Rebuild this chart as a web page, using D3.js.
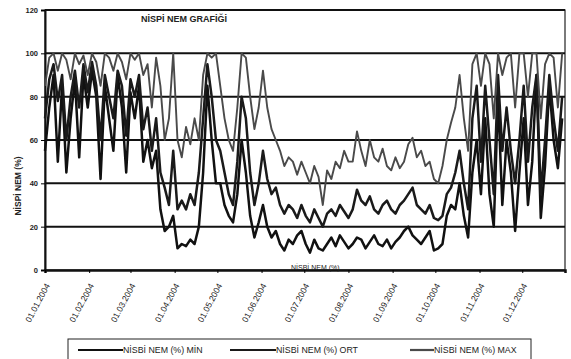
<!DOCTYPE html>
<html><head><meta charset="utf-8">
<script src="https://cdn.jsdelivr.net/npm/d3@7"></script>
<style>body{margin:0;background:#fff}svg{display:block;font-family:"Liberation Sans",Arial,sans-serif}</style>
</head><body><svg id="c" width="571" height="359"></svg>
<script>
// sampling: one reading every 3 days starting 01.01.2004
const startDate = "2004-01-01";
const stepDays = 3;
const tickLabels = ["01.01.2004","01.02.2004","01.03.2004","01.04.2004","01.05.2004","01.06.2004","01.07.2004","01.08.2004","01.09.2004","01.10.2004","01.11.2004","01.12.2004"];
const yTicks = [0,20,40,60,80,100,120];
const seriesNames = ["NİSBİ NEM (%) MİN","NİSBİ NEM (%) ORT","NİSBİ NEM (%) MAX"];
const maxValues = [85,98,100,92,100,97,88,100,95,99,90,
 100,96,85,100,98,92,100,96,88,100,
 97,100,90,95,75,98,85,60,70,100,
 60,52,66,58,70,60,90,100,98,100,
 85,70,60,55,75,100,98,80,65,75,
 92,75,65,60,55,48,52,50,44,50,
 45,40,48,43,30,46,42,50,47,55,50,
 50,64,55,48,60,52,50,56,48,46,
 52,47,50,58,61,52,55,48,50,42,
 40,48,60,68,75,90,70,55,95,100,
 85,100,95,70,100,90,98,100,75,100,
 100,80,100,100,70,95,100,98,75,100];
const ortValues = [70,88,95,78,90,60,80,92,75,95,82,
 96,85,60,90,80,70,92,85,62,88,
 80,90,65,75,55,70,45,38,30,55,
 28,32,28,35,30,45,70,95,80,60,
 55,45,35,30,50,80,70,45,30,40,
 55,42,35,38,30,26,30,28,24,30,
 25,22,28,24,20,26,28,25,30,27,24,
 28,37,32,30,34,28,26,30,32,28,
 26,30,32,35,38,30,28,26,30,24,
 23,25,35,38,45,55,40,28,70,85,
 50,85,60,35,90,55,75,55,40,60,
 85,50,75,90,35,60,90,70,55,80];
const minValues = [55,75,90,50,85,45,70,88,52,90,75,
 92,80,42,85,70,55,90,75,45,82,
 70,85,50,60,47,55,28,18,20,25,
 10,12,11,14,12,20,45,85,60,40,
 40,30,25,22,35,60,45,25,15,22,
 30,20,15,18,12,9,14,12,16,18,
 12,8,14,10,9,12,15,11,16,13,10,
 12,15,14,10,13,16,12,11,14,10,
 13,15,18,20,16,14,12,15,18,9,
 10,12,25,30,28,40,25,15,45,60,
 35,70,35,20,80,30,60,45,18,45,
 70,30,50,90,24,48,85,60,47,70];

const svg = d3.select("#c");
const L=45, R=565, T=10, B=270;
const parse = d3.timeParse("%Y-%m-%d");
const t0 = parse(startDate);
const dates = minValues.map((_,i)=>d3.timeDay.offset(t0, i*stepDays));
const x = d3.scaleTime().domain([t0, parse("2004-12-31")]).range([L,R]);
const y = d3.scaleLinear().domain([0,120]).range([B,T]);

// plot frame
svg.append("rect").attr("x",L).attr("y",T).attr("width",R-L).attr("height",B-T)
  .attr("fill","#fff").attr("stroke","#222").attr("stroke-width",1.2);
// gridlines
svg.append("g").selectAll("line").data(yTicks.filter(v=>v>0)).join("line")
  .attr("x1",L).attr("x2",R).attr("y1",d=>y(d)).attr("y2",d=>y(d))
  .attr("stroke","#111").attr("stroke-width",d=>d===120?2.2:2);

// y axis
const ya = svg.append("g").attr("transform",`translate(${L},0)`)
  .call(d3.axisLeft(y).tickValues(yTicks).tickSize(4).tickPadding(3));
ya.select(".domain").attr("stroke","#111").attr("stroke-width",2);
ya.selectAll("text").attr("font-size","7.5px").attr("font-weight","bold").attr("fill","#222");

// x axis
const monthTicks = tickLabels.map((_,i)=>new Date(2004,i,1));
const xa = svg.append("g").attr("transform",`translate(0,${B})`)
  .call(d3.axisBottom(x).tickValues(monthTicks).tickSize(3).tickFormat((d,i)=>tickLabels[i]));
xa.select(".domain").attr("stroke","#111").attr("stroke-width",2.5);
xa.selectAll("text").attr("font-size","8.5px").attr("fill","#222")
  .attr("text-anchor","end").attr("y",0).attr("dy","0.35em").attr("dx",0)
  .attr("transform","translate(2,14) rotate(-62)");

// lines
const line = d3.line().x((d,i)=>x(dates[i])).y(d=>y(d));
const series = [
  {vals:minValues, color:"#111", w:2.5},
  {vals:ortValues, color:"#1a1a1a", w:2.5},
  {vals:maxValues, color:"#4a4a4a", w:1.9}
];
svg.append("g").selectAll("path").data(series).join("path")
  .attr("d",d=>line(d.vals)).attr("fill","none")
  .attr("stroke",d=>d.color).attr("stroke-width",d=>d.w).attr("stroke-linejoin","round");

// titles
svg.append("text").attr("x",141).attr("y",22).attr("font-size","9px").attr("font-weight","bold").attr("fill","#222").text("NİSPİ NEM GRAFİĞİ");
svg.append("text").attr("transform","translate(21,186) rotate(-90)").attr("text-anchor","middle")
  .attr("font-size","8.5px").attr("font-weight","bold").attr("fill","#222").text("NİSPİ NEM (%)");
svg.append("text").attr("x",291).attr("y",270).attr("font-size","7px").attr("fill","#222").text("NİSBİ NEM (%)");

// legend
const lg = svg.append("g");
lg.append("rect").attr("x",68).attr("y",339).attr("width",463).attr("height",24).attr("fill","#fff").attr("stroke","#222").attr("stroke-width",1);
const legendX = [78, 230, 410];
const legendLen = [45, 46, 24];
seriesNames.forEach((n,i)=>{
  lg.append("line").attr("x1",legendX[i]).attr("x2",legendX[i]+legendLen[i]).attr("y1",350).attr("y2",350)
    .attr("stroke",series[i].color).attr("stroke-width",2.2);
  lg.append("text").attr("x",legendX[i]+legendLen[i]).attr("y",353).attr("font-size","8.8px").attr("fill","#222").text(n);
});
</script></body></html>
